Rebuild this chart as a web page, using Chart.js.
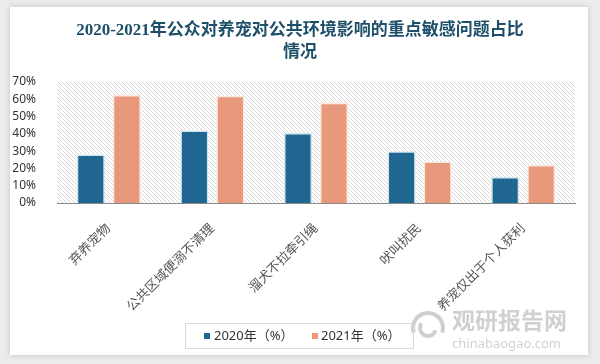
<!DOCTYPE html>
<html>
<head>
<meta charset="utf-8">
<script src="https://cdn.jsdelivr.net/npm/chart.js@4.4.1/dist/chart.umd.min.js"></script>
<style>
    body { margin: 0; background: #ececec; width: 600px; height: 364px; overflow: hidden; }
    .card { position: absolute; left: 10px; top: 7px; width: 578px; height: 348px; background: #fff; box-shadow: 0 0 6px rgba(0,0,0,0.18); }
    #chartWrap { position: absolute; left: 0; top: 0; width: 600px; height: 364px; }
</style>
</head>
<body>
<div class="card"></div>
<div id="chartWrap"><canvas id="issueChart" width="600" height="364"></canvas></div>
<script>
    const categories = ['弃养宠物', '公共区域便溺不清理', '溜犬不拉牵引绳', '吠叫扰民', '养宠仅出于个人获利'];
    const values2020 = [28, 42, 40.5, 30, 15];
    const values2021 = [62.5, 62, 58, 24, 22];
    const seriesNames = ['2020年（%）', '2021年（%）'];
    const titleLines = ['2020-2021年公众对养宠对公共环境影响的重点敏感问题占比', '情况'];

    const serifFont = "'Liberation Serif', 'DejaVu Serif', 'Noto Sans CJK SC', serif";
    const sansFont = "'Noto Sans', 'Noto Sans CJK SC', sans-serif";

    function makeHatch() {
        const c = document.createElement('canvas');
        c.width = 4;
        c.height = 4;
        const g = c.getContext('2d');
        g.fillStyle = '#ffffff';
        g.fillRect(0, 0, 4, 4);
        g.strokeStyle = '#d8d8d8';
        g.lineWidth = 1;
        g.beginPath();
        g.moveTo(-1, -1); g.lineTo(5, 5);
        g.moveTo(-1, 3); g.lineTo(1, 5);
        g.moveTo(3, -1); g.lineTo(5, 1);
        g.stroke();
        return g.createPattern(c, 'repeat');
    }

    const decorPlugin = {
        id: 'decor',
        beforeDatasetsDraw(chart) {
            const { ctx, chartArea } = chart;
            ctx.save();
            ctx.fillStyle = makeHatch();
            ctx.fillRect(chartArea.left, chartArea.top, chartArea.right - chartArea.left, chartArea.bottom - chartArea.top);
            ctx.restore();
        },
        afterDraw(chart) {
            const ctx = chart.ctx;
            ctx.save();

            // title
            ctx.fillStyle = '#1d4f6a';
            ctx.font = 'bold 17px ' + serifFont;
            ctx.textAlign = 'center';
            ctx.textBaseline = 'middle';
            ctx.fillText(titleLines[0], 300, 31);
            ctx.fillText(titleLines[1], 300, 53);

            // watermark
            ctx.fillStyle = 'rgba(150,150,150,0.45)';
            ctx.font = 'bold 23px ' + sansFont;
            ctx.textAlign = 'left';
            ctx.fillText('观研报告网', 452, 322);
            ctx.font = '13px ' + sansFont;
            ctx.fillText('chinabaogao.com', 452, 344);
            ctx.strokeStyle = 'rgba(160,160,160,0.5)';
            ctx.lineWidth = 4;
            ctx.beginPath();
            ctx.arc(428, 328, 15, Math.PI * 0.9, Math.PI * 2.1);
            ctx.stroke();
            ctx.beginPath();
            ctx.arc(428, 328, 8, Math.PI * 0.1, Math.PI * 1.2);
            ctx.stroke();

            // legend
            ctx.strokeStyle = '#d9d9d9';
            ctx.lineWidth = 1;
            ctx.strokeRect(185.5, 323.5, 228, 25);
            ctx.font = '13px ' + sansFont;
            ctx.textBaseline = 'middle';
            const items = [[204, 214], [312, 321]];
            chart.data.datasets.forEach((ds, i) => {
                ctx.fillStyle = ds.backgroundColor;
                ctx.fillRect(items[i][0], 333, 6, 6);
                ctx.fillStyle = '#333';
                ctx.fillText(ds.label, items[i][1], 336);
            });
            ctx.restore();
        }
    };

    const ctx = document.getElementById('issueChart').getContext('2d');

    const issueChart = new Chart(ctx, {
        type: 'bar',
        data: {
            labels: categories,
            datasets: [{
                label: seriesNames[0],
                data: values2020,
                backgroundColor: '#1f6690',
                borderColor: '#cfe6f0',
                borderWidth: 1.5,
                categoryPercentage: 0.695,
                barPercentage: 0.78
            }, {
                label: seriesNames[1],
                data: values2021,
                backgroundColor: '#e8987b',
                borderColor: '#fbe7dc',
                borderWidth: 1.5,
                categoryPercentage: 0.695,
                barPercentage: 0.78
            }]
        },
        options: {
            responsive: false,
            animation: false,
            layout: { padding: { left: 10, right: 25, top: 82, bottom: 0 } },
            plugins: {
                legend: { display: false },
                title: { display: false },
                tooltip: { enabled: false }
            },
            scales: {
                x: {
                    grid: { display: false },
                    border: { display: true, color: '#8a8a8a', width: 1 },
                    ticks: {
                        color: '#555',
                        font: { family: serifFont, size: 13 },
                        minRotation: 45,
                        maxRotation: 45,
                        autoSkip: false,
                        padding: 10
                    },
                    afterFit(scale) { scale.height = 161; }
                },
                y: {
                    min: 0,
                    max: 70,
                    grid: { display: false },
                    border: { display: false },
                    ticks: {
                        stepSize: 10,
                        autoSkip: false,
                        color: '#333',
                        padding: 13,
                        font: { family: sansFont, size: 12 },
                        callback: v => v + '%'
                    },
                    afterFit(scale) { scale.width = 47; }
                }
            }
        },
        plugins: [decorPlugin]
    });
</script>
</body>
</html>
